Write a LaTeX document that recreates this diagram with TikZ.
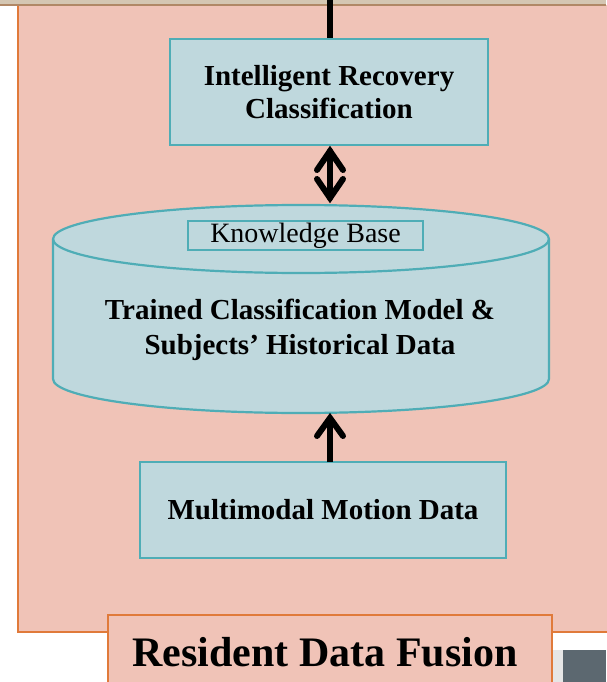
\documentclass[tikz,border=0pt]{standalone}
\usepackage{fontspec}
\setmainfont{Liberation Serif}
\definecolor{salmon}{HTML}{F0C3B7}
\definecolor{orng}{HTML}{E07A3A}
\definecolor{bluefill}{HTML}{BFD8DD}
\definecolor{teal}{HTML}{4FADB6}
\definecolor{beige}{HTML}{D4C6B2}
\definecolor{brownline}{HTML}{B08866}
\definecolor{slate}{HTML}{5C6870}
\definecolor{lgray}{HTML}{E6E6E6}
\tikzset{
  box/.style={draw=teal, fill=bluefill, line width=2.2pt, align=center, font=\bfseries\fontsize{29}{33}\selectfont, inner sep=0pt},
  conn/.style={line width=6pt, line cap=round, line join=miter, miter limit=10, black}
}
\begin{document}
\begin{tikzpicture}[x=1pt,y=-1pt]
\useasboundingbox (0,0) rectangle (606,682);
\fill[white] (0,0) rectangle (606,682);
% top band
\fill[beige] (0,0) rectangle (606,4.5);
% main frame
\fill[salmon] (18,5) rectangle (620,632);
\draw[orng, line width=2pt] (620,632) -- (18,632) -- (18,5);
\draw[brownline, line width=2.2pt] (0,5) -- (606,5);
% bottom right shapes
\fill[lgray] (551,650) rectangle (606,682);
\fill[slate] (563,650) rectangle (606,682);
% label box
\node[draw=orng, fill=salmon, line width=2pt, minimum width=444pt, minimum height=80pt, anchor=north west, inner sep=0pt] (lbl) at (107,614) {};
\node[font=\bfseries\fontsize{42}{46}\selectfont] (lbltext) at (325,652) {Resident Data Fusion};
% top box
\node[box, minimum width=318pt, minimum height=106pt] (irc) at (329,92) {Intelligent Recovery\\Classification};
\coordinate (topin) at (330,0);
\draw[conn, line width=5.5pt, line cap=butt] (topin) -- (irc.north -| topin);
% cylinder (drawn directly)
\filldraw[draw=teal, fill=bluefill, line width=2.2pt]
  (53,239) -- (53,379) arc[start angle=180, end angle=360, x radius=248, y radius=-34] -- (549,239)
  arc[start angle=0, end angle=180, x radius=248, y radius=-34] -- cycle;
\draw[teal, line width=2.2pt] (53,239) arc[start angle=180, end angle=360, x radius=248, y radius=-34];
\node[draw=teal, line width=2pt, minimum width=235pt, minimum height=29pt, inner sep=0pt, font=\fontsize{28}{30}\selectfont] (kblabel) at (305.5,235.5) {Knowledge Base};
\node[align=center, font=\bfseries\fontsize{29}{35}\selectfont] (kbtext) at (300,330) {Trained Classification Model \&\\Subjects’ Historical Data};
% bottom box
\node[box, minimum width=366pt, minimum height=96pt] (mmd) at (323,510) {\raisebox{-2pt}{Multimodal Motion Data}};
% double arrow between top box and knowledge base
\coordinate (a1) at (330,151);
\coordinate (a2) at (330,198);
\draw[conn] (a1) -- (a2);
\coordinate (a1l) at (317,170);
\coordinate (a1r) at (343,170);
\draw[conn] (a1l) -- (a1) -- (a1r);
\coordinate (a2l) at (317,179);
\coordinate (a2r) at (343,179);
\draw[conn] (a2l) -- (a2) -- (a2r);
% arrow from motion data to knowledge base
\coordinate (b1) at (330,462);
\coordinate (b2) at (330,418);
\draw[conn, line cap=butt] (b1) -- (b2);
\coordinate (b2l) at (317,436);
\coordinate (b2r) at (343,436);
\draw[conn] (b2l) -- (b2) -- (b2r);
\end{tikzpicture}
\end{document}
